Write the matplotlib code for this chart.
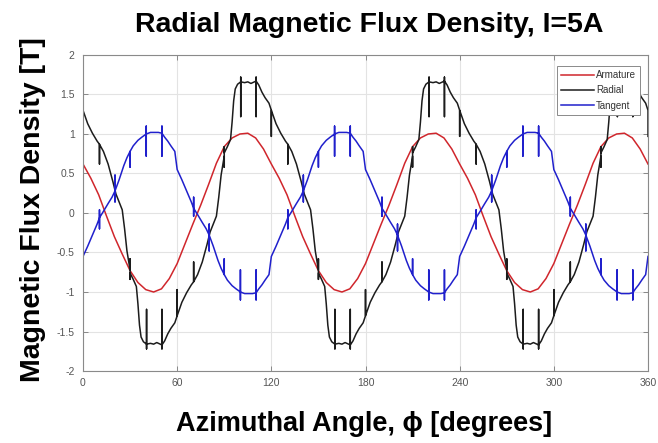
import matplotlib
matplotlib.use("Agg")
import matplotlib.pyplot as plt

plt.rcParams['font.family'] = ['Liberation Sans', 'DejaVu Sans']
plt.rcParams['axes.unicode_minus'] = False

# Armature field, every 5 degrees
armature_deg = list(range(0, 365, 5))
armature_b = [0.62, 0.44, 0.23, -0.04, -0.30, -0.52, -0.73, -0.88, -0.97, -1.00, -0.96, -0.83,
              -0.64, -0.39, -0.14, 0.10, 0.36, 0.63, 0.84, 0.95, 1.00, 1.01, 0.95, 0.81,
              0.62, 0.44, 0.23, -0.04, -0.30, -0.52, -0.73, -0.88, -0.97, -1.00, -0.96, -0.83,
              -0.64, -0.39, -0.14, 0.10, 0.36, 0.63, 0.84, 0.95, 1.00, 1.01, 0.95, 0.81,
              0.62, 0.44, 0.23, -0.04, -0.30, -0.52, -0.73, -0.88, -0.97, -1.00, -0.96, -0.83,
              -0.64, -0.39, -0.14, 0.10, 0.36, 0.63, 0.84, 0.95, 1.00, 1.01, 0.95, 0.81,
              0.62]

# Radial field (slot spikes repeat the angle)
radial_deg = [
    0, 0, 0, 3, 6, 9, 10.5, 10.5, 10.5, 13, 16, 19, 21, 23, 25, 26.5, 28, 30, 30, 30, 30, 32, 34, 35, 36, 37, 38.5, 40.5, 40.5, 40.5, 40.5, 43, 45, 47, 50.3, 50.3, 50.3, 50.3, 52, 54, 56, 58.5,
    60, 60, 60, 63, 66, 69, 70.5, 70.5, 70.5, 73, 76, 79, 81, 83, 85, 86.5, 88, 90, 90, 90, 90, 92, 94, 95, 96, 97, 98.5, 100.5, 100.5, 100.5, 100.5, 103, 105, 107, 110.3, 110.3, 110.3, 110.3, 112, 114, 116, 118.5,
    120, 120, 120, 123, 126, 129, 130.5, 130.5, 130.5, 133, 136, 139, 141, 143, 145, 146.5, 148, 150, 150, 150, 150, 152, 154, 155, 156, 157, 158.5, 160.5, 160.5, 160.5, 160.5, 163, 165, 167, 170.3, 170.3, 170.3, 170.3, 172, 174, 176, 178.5,
    180, 180, 180, 183, 186, 189, 190.5, 190.5, 190.5, 193, 196, 199, 201, 203, 205, 206.5, 208, 210, 210, 210, 210, 212, 214, 215, 216, 217, 218.5, 220.5, 220.5, 220.5, 220.5, 223, 225, 227, 230.3, 230.3, 230.3, 230.3, 232, 234, 236, 238.5,
    240, 240, 240, 243, 246, 249, 250.5, 250.5, 250.5, 253, 256, 259, 261, 263, 265, 266.5, 268, 270, 270, 270, 270, 272, 274, 275, 276, 277, 278.5, 280.5, 280.5, 280.5, 280.5, 283, 285, 287, 290.3, 290.3, 290.3, 290.3, 292, 294, 296, 298.5,
    300, 300, 300, 303, 306, 309, 310.5, 310.5, 310.5, 313, 316, 319, 321, 323, 325, 326.5, 328, 330, 330, 330, 330, 332, 334, 335, 336, 337, 338.5, 340.5, 340.5, 340.5, 340.5, 343, 345, 347, 350.3, 350.3, 350.3, 350.3, 352, 354, 356, 358.5,
    360, 360]
radial_b = [
    1.30, 0.97, 1.30, 1.13, 1.01, 0.91, 0.87, 0.62, 0.87, 0.78, 0.62, 0.40, 0.24, 0.14, 0.04, -0.20, -0.48, -0.72, -0.58, -0.84, -0.76, -0.84, -0.93, -1.15, -1.42, -1.57, -1.63, -1.66, -1.22, -1.72, -1.66, -1.65, -1.66, -1.64, -1.67, -1.22, -1.72, -1.67, -1.62, -1.53, -1.46, -1.39,
    -1.30, -0.97, -1.30, -1.13, -1.01, -0.91, -0.87, -0.62, -0.87, -0.78, -0.62, -0.40, -0.24, -0.14, -0.04, 0.20, 0.48, 0.72, 0.58, 0.84, 0.76, 0.84, 0.93, 1.15, 1.42, 1.57, 1.63, 1.66, 1.22, 1.72, 1.66, 1.65, 1.66, 1.64, 1.67, 1.22, 1.72, 1.67, 1.62, 1.53, 1.46, 1.39,
    1.30, 0.97, 1.30, 1.13, 1.01, 0.91, 0.87, 0.62, 0.87, 0.78, 0.62, 0.40, 0.24, 0.14, 0.04, -0.20, -0.48, -0.72, -0.58, -0.84, -0.76, -0.84, -0.93, -1.15, -1.42, -1.57, -1.63, -1.66, -1.22, -1.72, -1.66, -1.65, -1.66, -1.64, -1.67, -1.22, -1.72, -1.67, -1.62, -1.53, -1.46, -1.39,
    -1.30, -0.97, -1.30, -1.13, -1.01, -0.91, -0.87, -0.62, -0.87, -0.78, -0.62, -0.40, -0.24, -0.14, -0.04, 0.20, 0.48, 0.72, 0.58, 0.84, 0.76, 0.84, 0.93, 1.15, 1.42, 1.57, 1.63, 1.66, 1.22, 1.72, 1.66, 1.65, 1.66, 1.64, 1.67, 1.22, 1.72, 1.67, 1.62, 1.53, 1.46, 1.39,
    1.30, 0.97, 1.30, 1.13, 1.01, 0.91, 0.87, 0.62, 0.87, 0.78, 0.62, 0.40, 0.24, 0.14, 0.04, -0.20, -0.48, -0.72, -0.58, -0.84, -0.76, -0.84, -0.93, -1.15, -1.42, -1.57, -1.63, -1.66, -1.22, -1.72, -1.66, -1.65, -1.66, -1.64, -1.67, -1.22, -1.72, -1.67, -1.62, -1.53, -1.46, -1.39,
    -1.30, -0.97, -1.30, -1.13, -1.01, -0.91, -0.87, -0.62, -0.87, -0.78, -0.62, -0.40, -0.24, -0.14, -0.04, 0.20, 0.48, 0.72, 0.58, 0.84, 0.76, 0.84, 0.93, 1.15, 1.42, 1.57, 1.63, 1.66, 1.22, 1.72, 1.66, 1.65, 1.66, 1.64, 1.67, 1.22, 1.72, 1.67, 1.62, 1.53, 1.46, 1.39,
    1.30, 0.97]

# Tangential field
tangent_deg = [
    0, 3, 6, 9, 10.5, 10.5, 10.5, 10.5, 13, 16, 18.5, 20.4, 20.4, 20.4, 20.4, 23, 26, 28, 30, 30, 30, 32, 35, 37.5, 40.3, 40.3, 40.3, 40.3, 43, 46, 48, 50.3, 50.3, 50.3, 50.3, 52, 54, 56, 58.5,
    60, 63, 66, 69, 70.5, 70.5, 70.5, 70.5, 73, 76, 78.5, 80.4, 80.4, 80.4, 80.4, 83, 86, 88, 90, 90, 90, 92, 95, 97.5, 100.3, 100.3, 100.3, 100.3, 103, 106, 108, 110.3, 110.3, 110.3, 110.3, 112, 114, 116, 118.5,
    120, 123, 126, 129, 130.5, 130.5, 130.5, 130.5, 133, 136, 138.5, 140.4, 140.4, 140.4, 140.4, 143, 146, 148, 150, 150, 150, 152, 155, 157.5, 160.3, 160.3, 160.3, 160.3, 163, 166, 168, 170.3, 170.3, 170.3, 170.3, 172, 174, 176, 178.5,
    180, 183, 186, 189, 190.5, 190.5, 190.5, 190.5, 193, 196, 198.5, 200.4, 200.4, 200.4, 200.4, 203, 206, 208, 210, 210, 210, 212, 215, 217.5, 220.3, 220.3, 220.3, 220.3, 223, 226, 228, 230.3, 230.3, 230.3, 230.3, 232, 234, 236, 238.5,
    240, 243, 246, 249, 250.5, 250.5, 250.5, 250.5, 253, 256, 258.5, 260.4, 260.4, 260.4, 260.4, 263, 266, 268, 270, 270, 270, 272, 275, 277.5, 280.3, 280.3, 280.3, 280.3, 283, 286, 288, 290.3, 290.3, 290.3, 290.3, 292, 294, 296, 298.5,
    300, 303, 306, 309, 310.5, 310.5, 310.5, 310.5, 313, 316, 318.5, 320.4, 320.4, 320.4, 320.4, 323, 326, 328, 330, 330, 330, 332, 335, 337.5, 340.3, 340.3, 340.3, 340.3, 343, 346, 348, 350.3, 350.3, 350.3, 350.3, 352, 354, 356, 358.5,
    360]
tangent_b = [
    -0.55, -0.42, -0.28, -0.14, -0.06, -0.20, 0.04, -0.06, 0.02, 0.12, 0.20, 0.28, 0.48, 0.14, 0.28, 0.42, 0.60, 0.70, 0.78, 0.58, 0.78, 0.85, 0.92, 0.96, 1.00, 1.10, 0.72, 1.00, 1.02, 1.02, 1.02, 1.01, 1.10, 0.72, 1.01, 0.96, 0.91, 0.85, 0.78,
    0.55, 0.42, 0.28, 0.14, 0.06, 0.20, -0.04, 0.06, -0.02, -0.12, -0.20, -0.28, -0.48, -0.14, -0.28, -0.42, -0.60, -0.70, -0.78, -0.58, -0.78, -0.85, -0.92, -0.96, -1.00, -1.10, -0.72, -1.00, -1.02, -1.02, -1.02, -1.01, -1.10, -0.72, -1.01, -0.96, -0.91, -0.85, -0.78,
    -0.55, -0.42, -0.28, -0.14, -0.06, -0.20, 0.04, -0.06, 0.02, 0.12, 0.20, 0.28, 0.48, 0.14, 0.28, 0.42, 0.60, 0.70, 0.78, 0.58, 0.78, 0.85, 0.92, 0.96, 1.00, 1.10, 0.72, 1.00, 1.02, 1.02, 1.02, 1.01, 1.10, 0.72, 1.01, 0.96, 0.91, 0.85, 0.78,
    0.55, 0.42, 0.28, 0.14, 0.06, 0.20, -0.04, 0.06, -0.02, -0.12, -0.20, -0.28, -0.48, -0.14, -0.28, -0.42, -0.60, -0.70, -0.78, -0.58, -0.78, -0.85, -0.92, -0.96, -1.00, -1.10, -0.72, -1.00, -1.02, -1.02, -1.02, -1.01, -1.10, -0.72, -1.01, -0.96, -0.91, -0.85, -0.78,
    -0.55, -0.42, -0.28, -0.14, -0.06, -0.20, 0.04, -0.06, 0.02, 0.12, 0.20, 0.28, 0.48, 0.14, 0.28, 0.42, 0.60, 0.70, 0.78, 0.58, 0.78, 0.85, 0.92, 0.96, 1.00, 1.10, 0.72, 1.00, 1.02, 1.02, 1.02, 1.01, 1.10, 0.72, 1.01, 0.96, 0.91, 0.85, 0.78,
    0.55, 0.42, 0.28, 0.14, 0.06, 0.20, -0.04, 0.06, -0.02, -0.12, -0.20, -0.28, -0.48, -0.14, -0.28, -0.42, -0.60, -0.70, -0.78, -0.58, -0.78, -0.85, -0.92, -0.96, -1.00, -1.10, -0.72, -1.00, -1.02, -1.02, -1.02, -1.01, -1.10, -0.72, -1.01, -0.96, -0.91, -0.85, -0.78,
    -0.55]

x_ticks = [0, 60, 120, 180, 240, 300, 360]
y_ticks = [-2, -1.5, -1, -0.5, 0, 0.5, 1, 1.5, 2]
y_tick_labels = ['-2', '-1.5', '-1', '-0.5', '0', '0.5', '1', '1.5', '2']

fig = plt.figure(figsize=(6.58, 4.43), dpi=100)
ax = fig.add_axes([83 / 658, 72 / 443, 565 / 658, 316 / 443])

ax.plot(armature_deg, armature_b, color='#d0262c', lw=1.1, label='Armature')
ax.plot(radial_deg, radial_b, color='#1c1c1c', lw=1.1, label='Radial')
ax.plot(tangent_deg, tangent_b, color='#2020cc', lw=1.1, label='Tangent')

ax.set_xlim(0, 360)
ax.set_ylim(-2, 2)
ax.set_xticks(x_ticks)
ax.set_xticklabels([str(t) for t in x_ticks])
ax.set_yticks(y_ticks)
ax.set_yticklabels(y_tick_labels)
ax.grid(True, color='#e3e3e3', lw=0.8)
ax.set_axisbelow(True)
ax.tick_params(direction='in', length=3.5, width=0.7, colors='#888888',
               labelcolor='#555555', labelsize=7.5, top=True, right=True)
ax.tick_params(axis='y', pad=6)
ax.tick_params(axis='x', pad=5)
for s in ax.spines.values():
    s.set_color('#8a8a8a')
    s.set_linewidth(0.8)

leg = ax.legend(loc='upper right', bbox_to_anchor=(0.986, 0.965), borderaxespad=0,
                fontsize=7, fancybox=False, framealpha=1, edgecolor='#8a8a8a',
                handlelength=3.4, handletextpad=0.2, labelspacing=0.55, borderpad=0.4)
leg.get_frame().set_linewidth(0.7)
for t in leg.get_texts():
    t.set_color('#333333')

fig.text(0.561, 0.928, 'Radial Magnetic Flux Density, I=5A', ha='center', va='baseline',
         fontsize=20.5, fontweight='bold')
fig.text(0.553, 0.027, 'Azimuthal Angle, ϕ [degrees]', ha='center', va='baseline',
         fontsize=19.5, fontweight='bold')
fig.text(0.05, 0.528, 'Magnetic Flux Density [T]', ha='center', va='center',
         rotation=90, fontsize=20.5, fontweight='bold')

fig.savefig('out.png', dpi=100)
